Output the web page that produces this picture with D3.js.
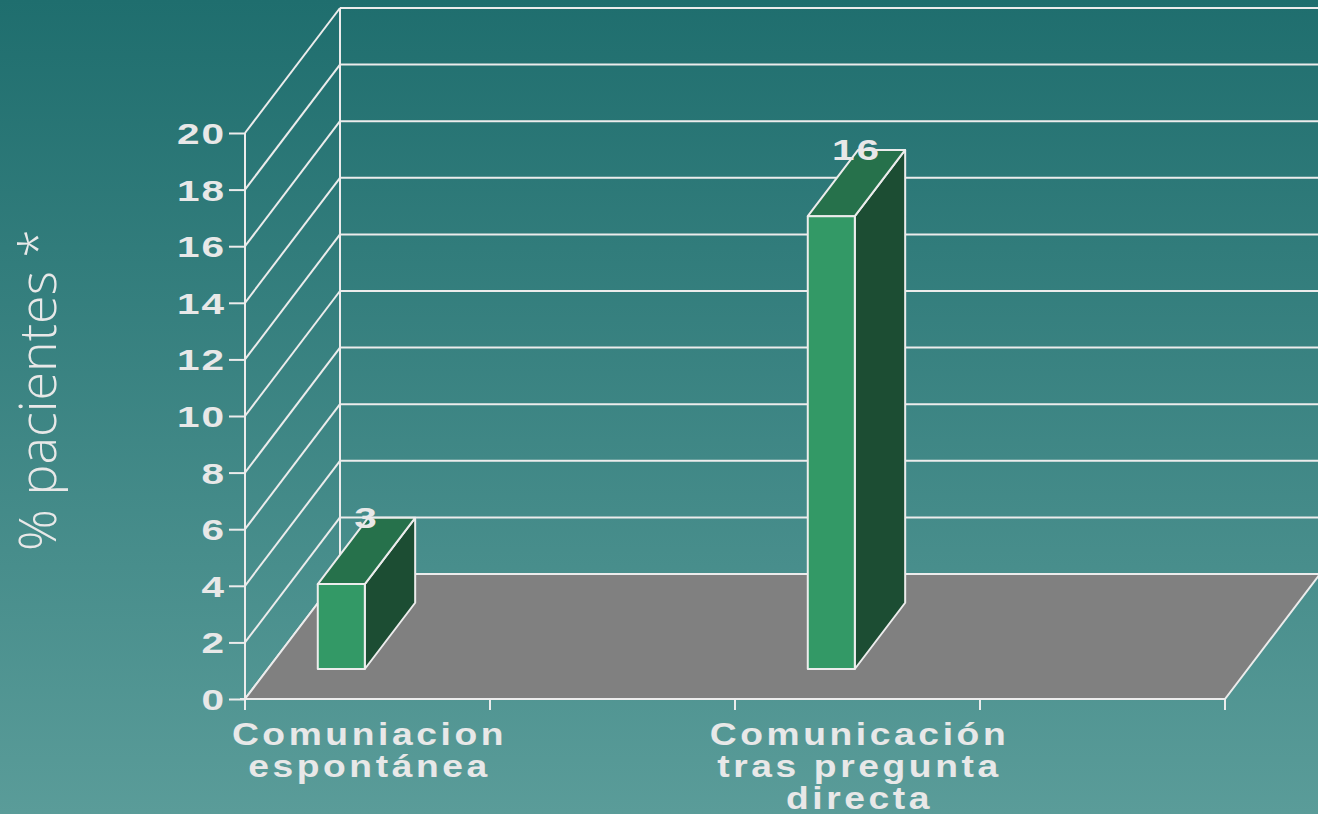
<!DOCTYPE html>
<html>
<head>
<meta charset="utf-8">
<script src="https://cdn.jsdelivr.net/npm/d3@7"></script>
<style>
  html, body { margin: 0; padding: 0; overflow: hidden; }
  text { fill: #e8e8e8; }
  .num { font-family: "Liberation Sans", Arial, sans-serif; font-weight: bold; font-size: 30px; letter-spacing: 1.5px; }
  .cat { font-family: "Liberation Sans", Arial, sans-serif; font-weight: bold; font-size: 31px; letter-spacing: 3px; }
  .ytitle { font-family: "Open Sans", sans-serif; font-weight: 300; font-size: 52px; }
</style>
</head>
<body>
<script>
var fullWidth = 1318;
var fullHeight = 814;

// chart data
var categories = ["Comuniacion\nespontánea", "", "Comunicación\ntras pregunta\ndirecta", ""];
var values = [3, null, 16, null];
var yTicks = [0, 2, 4, 6, 8, 10, 12, 14, 16, 18, 20];
var yTitle = "% pacientes *";

// plot frame
var plot = {left: 245, right: 1225, top: 133, bottom: 699};
var depthX = 95, depthY = 125;
var lineColor = "#ececec";

var svg = d3.select("body")
            .append("svg")
            .attr("width", fullWidth)
            .attr("height", fullHeight);

// background gradient
var grad = svg.append("defs").append("linearGradient")
              .attr("id", "bg")
              .attr("x1", 0).attr("y1", 0)
              .attr("x2", 0).attr("y2", 1);
grad.append("stop").attr("offset", "0%").attr("stop-color", "#1f6e6e");
grad.append("stop").attr("offset", "100%").attr("stop-color", "#5a9c99");

svg.append("rect")
   .attr("width", fullWidth)
   .attr("height", fullHeight)
   .attr("fill", "url(#bg)");

var yScale = d3.scaleLinear()
               .domain([0, 20])
               .range([plot.bottom, plot.top]);

var xScale = d3.scaleBand()
               .domain(d3.range(categories.length))
               .range([plot.left, plot.right]);

// project a point: in-plane x, value, depth (0 front .. 1 back)
function pt(xp, v, z) {
    return [xp + z * depthX, yScale(v) - z * depthY];
}

function poly(points) {
    return points.map(function(p) { return p[0] + "," + p[1]; }).join(" ");
}

var grid = svg.append("g")
              .attr("stroke", lineColor)
              .attr("stroke-width", 2)
              .attr("fill", "none");

// back wall horizontal gridlines
grid.selectAll(".back")
    .data(yTicks)
    .enter()
    .append("line")
    .attr("x1", plot.left + depthX)
    .attr("x2", plot.right + depthX)
    .attr("y1", function(d) { return yScale(d) - depthY; })
    .attr("y2", function(d) { return yScale(d) - depthY; });

// left wall diagonals
grid.selectAll(".side")
    .data(yTicks)
    .enter()
    .append("line")
    .attr("x1", plot.left)
    .attr("x2", plot.left + depthX)
    .attr("y1", function(d) { return yScale(d); })
    .attr("y2", function(d) { return yScale(d) - depthY; });

// wall verticals
grid.append("line")
    .attr("x1", plot.left + depthX).attr("x2", plot.left + depthX)
    .attr("y1", yScale(0) - depthY).attr("y2", yScale(20) - depthY);

// floor
svg.append("polygon")
   .attr("points", poly([pt(plot.left, 0, 0), pt(plot.right, 0, 0),
                         pt(plot.right, 0, 1), pt(plot.left, 0, 1)]))
   .attr("fill", "#808080")
   .attr("stroke", lineColor)
   .attr("stroke-width", 2);

// y axis
var yAxis = d3.axisLeft(yScale)
              .tickValues(yTicks)
              .tickSize(16)
              .tickPadding(0)
              .tickFormat("");

var yg = svg.append("g")
   .attr("transform", "translate(" + plot.left + ",0)")
   .call(yAxis);
yg.select(".domain").remove();
yg.selectAll("line").attr("stroke", lineColor).attr("stroke-width", 2);
yg.append("line")
  .attr("x1", 0).attr("x2", 0)
  .attr("y1", plot.top).attr("y2", plot.bottom + 11)
  .attr("stroke", lineColor).attr("stroke-width", 2);

svg.selectAll(".ylab")
   .data(yTicks)
   .enter()
   .append("text")
   .attr("class", "num")
   .attr("text-anchor", "end")
   .attr("transform", function(d) {
       return "translate(226," + (yScale(d) + 11) + ") scale(1.35,1)";
   })
   .text(function(d) { return d; });

// x axis
var xTickPos = d3.range(categories.length + 1).map(function(i) {
    return plot.left + i * xScale.bandwidth();
});
svg.append("line")
   .attr("x1", plot.left - 5).attr("x2", plot.right)
   .attr("y1", plot.bottom).attr("y2", plot.bottom)
   .attr("stroke", lineColor).attr("stroke-width", 2);
svg.selectAll(".xtick")
   .data(xTickPos)
   .enter()
   .append("line")
   .attr("x1", function(d) { return d; })
   .attr("x2", function(d) { return d; })
   .attr("y1", plot.bottom)
   .attr("y2", plot.bottom + 11)
   .attr("stroke", lineColor).attr("stroke-width", 2);

// bars
var z0 = 0.24, z1 = 0.77;
var bw = xScale.bandwidth();
var barData = values.map(function(v, i) { return {i: i, v: v}; })
                    .filter(function(d) { return d.v != null; });

var bars = svg.selectAll(".bar")
              .data(barData)
              .enter()
              .append("g")
              .attr("class", "bar")
              .attr("stroke", lineColor)
              .attr("stroke-width", 2)
              .attr("stroke-linejoin", "round");

function bx0(d) { return xScale(d.i) + bw * 0.204; }
function bx1(d) { return xScale(d.i) + bw * 0.396; }

// right side
bars.append("polygon")
    .attr("fill", "#1c4d33")
    .attr("points", function(d) {
        return poly([pt(bx1(d), 0, z0), pt(bx1(d), 0, z1),
                     pt(bx1(d), d.v, z1), pt(bx1(d), d.v, z0)]);
    });
// top
bars.append("polygon")
    .attr("fill", "#26714b")
    .attr("points", function(d) {
        return poly([pt(bx0(d), d.v, z0), pt(bx1(d), d.v, z0),
                     pt(bx1(d), d.v, z1), pt(bx0(d), d.v, z1)]);
    });
// front
bars.append("polygon")
    .attr("fill", "#339966")
    .attr("points", function(d) {
        return poly([pt(bx0(d), 0, z0), pt(bx1(d), 0, z0),
                     pt(bx1(d), d.v, z0), pt(bx0(d), d.v, z0)]);
    });

// value labels
svg.selectAll(".val")
   .data(barData)
   .enter()
   .append("text")
   .attr("class", "num")
   .attr("text-anchor", "middle")
   .attr("transform", function(d) {
       var x = (bx0(d) + bx1(d)) / 2 + (z0 + z1) / 2 * depthX;
       var y = yScale(d.v) - z1 * depthY + 10;
       return "translate(" + x + "," + y + ") scale(1.35,1)";
   })
   .text(function(d) { return d.v; });

// category labels
var cats = svg.selectAll(".cat")
              .data(categories)
              .enter()
              .append("text")
              .attr("class", "cat")
              .attr("text-anchor", "middle")
              .attr("transform", function(d, i) {
                  return "translate(" + (xScale(i) + bw / 2 + 2) + ",745) scale(1.2,1)";
              });
cats.selectAll("tspan")
    .data(function(d) { return d ? d.split("\n") : []; })
    .enter()
    .append("tspan")
    .attr("x", 0)
    .attr("y", function(d, j) { return j * 32; })
    .text(function(d) { return d; });

// y axis title
svg.append("text")
   .attr("class", "ytitle")
   .attr("text-anchor", "middle")
   .attr("transform", "translate(56,390) rotate(-90)")
   .text(yTitle);
</script>
</body>
</html>
